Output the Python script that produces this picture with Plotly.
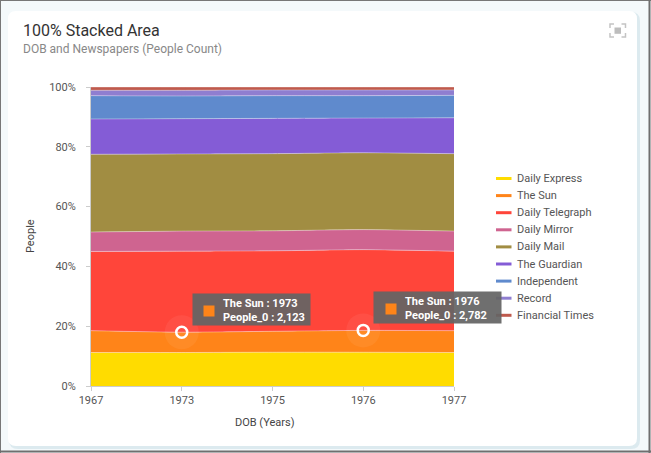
import plotly.graph_objects as go

# ---------------- data ----------------
years = ['1967', '1973', '1975', '1976', '1977']
daily_express = [3136, 3497, 3955, 4306, 3696]
the_sun = [2044, 2123, 2450, 2782, 2409]
daily_telegraph = [7420, 8461, 9415, 10290, 8778]
daily_mirror = [1820, 2092, 2345, 2553, 2211]
daily_mail = [7280, 8055, 9030, 9794, 8547]
the_guardian = [3304, 3684, 4130, 4421, 3960]
independent = [2184, 2373, 2660, 2858, 2475]
record = [504, 593, 665, 724, 594]
financial_times = [308, 343, 350, 381, 330]

series_names = ['Daily Express', 'The Sun', 'Daily Telegraph', 'Daily Mirror', 'Daily Mail',
                'The Guardian', 'Independent', 'Record', 'Financial Times']
series_values = [daily_express, the_sun, daily_telegraph, daily_mirror, daily_mail,
                 the_guardian, independent, record, financial_times]
colors = ['#FFDC00', '#FF8419', '#FF453A', '#CF6490', '#A18D42',
          '#845CD6', '#5F8ACD', '#8F7ED0', '#BF5A4D']

y_ticks = [0, 20, 40, 60, 80, 100]
y_tick_labels = ['0%', '20%', '40%', '60%', '80%', '100%']
tooltip_years = ['1973', '1976']

# ---------------- geometry helpers (pixels -> paper) ----------------
W, H = 651, 453
L, R, T, B = 91, 454, 87, 386


def px(x):
    return (x - L) / (R - L)


def py(y):
    return (B - y) / (B - T)


def rrect_path(x0, y0, x1, y1, r):
    pts = [
        ('M', x0 + r, y0), ('L', x1 - r, y0), ('Q', x1, y0, x1, y0 + r),
        ('L', x1, y1 - r), ('Q', x1, y1, x1 - r, y1), ('L', x0 + r, y1),
        ('Q', x0, y1, x0, y1 - r), ('L', x0, y0 + r), ('Q', x0, y0, x0 + r, y0)
    ]
    s = ''
    for p in pts:
        cmd = p[0]
        coords = p[1:]
        parts = []
        for i in range(0, len(coords), 2):
            parts.append(f'{px(coords[i]):.5f},{py(coords[i + 1]):.5f}')
        s += cmd + ' ' + ' '.join(parts) + ' '
    return s + 'Z'


FONT = 'Roboto'
fig = go.Figure()

# ---------------- stacked areas ----------------
for i, (name, vals, col) in enumerate(zip(series_names, series_values, colors)):
    fig.add_trace(go.Scatter(
        x=years, y=vals, name=name, stackgroup='one',
        groupnorm='percent' if i == 0 else None,
        mode='lines',
        line=dict(width=1, color='rgba(255,255,255,0.35)', shape='spline', smoothing=0.6),
        fillcolor=col, showlegend=False, hoverinfo='skip'))

# cumulative percentage at the top of "The Sun" layer
totals = [sum(v[j] for v in series_values) for j in range(len(years))]
tip_idx = [years.index(y) for y in tooltip_years]
tip_cum = [(daily_express[j] + the_sun[j]) / totals[j] * 100 for j in tip_idx]

fig.add_trace(go.Scatter(
    x=tooltip_years, y=tip_cum, mode='markers',
    marker=dict(size=34, color='rgba(255,255,255,0.06)', line=dict(width=0)),
    showlegend=False, hoverinfo='skip', cliponaxis=False))
fig.add_trace(go.Scatter(
    x=tooltip_years, y=tip_cum, mode='markers',
    marker=dict(size=11, color='rgba(0,0,0,0)', line=dict(color='white', width=2.5)),
    showlegend=False, hoverinfo='skip', cliponaxis=False))

shapes = []
annotations = []

# ---------------- background / card ----------------
shapes.append(dict(type='path', xref='paper', yref='paper', layer='below',
                   path=rrect_path(9, 12, 640, 449, 9),
                   fillcolor='rgba(200,222,230,0.55)', line=dict(width=0)))
shapes.append(dict(type='path', xref='paper', yref='paper', layer='below',
                   path=rrect_path(8, 11, 637, 446, 8),
                   fillcolor='white', line=dict(width=0)))
# outer frame
shapes.append(dict(type='line', xref='paper', yref='paper', x0=px(0.5), x1=px(0.5), y0=py(0), y1=py(453),
                   line=dict(color='#777777', width=1)))
shapes.append(dict(type='line', xref='paper', yref='paper', x0=px(0), x1=px(651), y0=py(0.5), y1=py(0.5),
                   line=dict(color='#777777', width=1)))
shapes.append(dict(type='line', xref='paper', yref='paper', x0=px(649.5), x1=px(649.5), y0=py(0), y1=py(453),
                   line=dict(color='#6f6f6f', width=2)))
shapes.append(dict(type='line', xref='paper', yref='paper', x0=px(0), x1=px(651), y0=py(451.5), y1=py(451.5),
                   line=dict(color='#6f6f6f', width=2)))

# expand icon (top right)
ic = '#c4c4c4'
for (ax_, ay_, dx, dy) in [(610, 24, 1, 1), (625.5, 24, -1, 1), (610, 37, 1, -1), (625.5, 37, -1, -1)]:
    shapes.append(dict(type='path', xref='paper', yref='paper',
                       path=f'M {px(ax_ + 4 * dx):.5f},{py(ay_):.5f} L {px(ax_):.5f},{py(ay_):.5f} L {px(ax_):.5f},{py(ay_ + 4 * dy):.5f}',
                       line=dict(color=ic, width=1.5)))
shapes.append(dict(type='rect', xref='paper', yref='paper',
                   x0=px(614.5), x1=px(621), y0=py(27.5), y1=py(33.8),
                   fillcolor='#bdbdbd', line=dict(width=0)))

# ---------------- titles ----------------
annotations.append(dict(xref='paper', yref='paper', x=px(21), y=py(31), xanchor='left', yanchor='middle',
                        text='100% Stacked Area', showarrow=False,
                        font=dict(family=FONT, size=16, color='#333333')))
annotations.append(dict(xref='paper', yref='paper', x=px(21), y=py(49.5), xanchor='left', yanchor='middle',
                        text='DOB and Newspapers (People Count)', showarrow=False,
                        font=dict(family=FONT, size=12, color='#888888')))
annotations.append(dict(xref='paper', yref='paper', x=px(265), y=py(422.5), xanchor='center', yanchor='middle',
                        text='DOB (Years)', showarrow=False,
                        font=dict(family=FONT, size=11, color='#444444')))
annotations.append(dict(xref='paper', yref='paper', x=px(30.5), y=py(236.5), xanchor='center', yanchor='middle',
                        text='People', showarrow=False, textangle=-90,
                        font=dict(family=FONT, size=11, color='#444444')))

# ---------------- manual legend ----------------
for i, (name, col) in enumerate(zip(series_names, colors)):
    yy = 178.5 + 17.1 * i
    shapes.append(dict(type='line', xref='paper', yref='paper',
                       x0=px(496), x1=px(511.5), y0=py(yy), y1=py(yy),
                       line=dict(color=col, width=3)))
    annotations.append(dict(xref='paper', yref='paper', x=px(515), y=py(yy), xanchor='left', yanchor='middle',
                            text=name, showarrow=False,
                            font=dict(family=FONT, size=11, color='#555555')))

# ---------------- tooltips (annotations anchored to the data points) ----------------
box_widths = [117, 127]
for k, j in enumerate(tip_idx):
    c = tip_cum[k]
    annotations.append(dict(xref='x', yref='y', x=j, y=c, xshift=10, yshift=6,
                            xanchor='left', yanchor='bottom', showarrow=False,
                            text=' ', width=box_widths[k], height=31, borderpad=0,
                            bgcolor='rgba(100,100,100,0.93)',
                            font=dict(family=FONT, size=8, color='white')))
    annotations.append(dict(xref='x', yref='y', x=j, y=c, xshift=21.5, yshift=15,
                            xanchor='left', yanchor='bottom', showarrow=False,
                            text=' ', width=10, height=10, borderpad=0,
                            bgcolor=colors[1],
                            font=dict(family=FONT, size=6, color='white')))
    annotations.append(dict(xref='x', yref='y', x=j, y=c, xshift=39.5, yshift=22,
                            xanchor='left', yanchor='middle', align='left', showarrow=False,
                            text=f'<b>{series_names[1]} : {years[j]}</b><br><b>People_0 : {the_sun[j]:,}</b>',
                            font=dict(family=FONT, size=11, color='white')))

fig.update_layout(
    width=W, height=H,
    margin=dict(l=L, r=W - R, t=T, b=H - B, pad=0),
    paper_bgcolor='#f4f9fb', plot_bgcolor='rgba(0,0,0,0)',
    showlegend=False,
    shapes=shapes, annotations=annotations,
    font=dict(family=FONT, size=11, color='#555555'),
    xaxis=dict(type='category', range=[0, len(years) - 1], showgrid=False, zeroline=False,
               showline=True, linecolor='#cccccc', linewidth=1,
               ticks='outside', ticklen=4, tickcolor='#cccccc',
               tickfont=dict(family=FONT, size=11, color='#555555')),
    yaxis=dict(range=[0, 100], tickvals=y_ticks, ticktext=y_tick_labels, showgrid=False, zeroline=False,
               showline=True, linecolor='#cccccc', linewidth=1,
               ticks='outside', ticklen=4, tickcolor='#cccccc', ticklabelstandoff=8,
               tickfont=dict(family=FONT, size=11, color='#555555')),
)

fig.write_html('out.html', config={'displayModeBar': False},
               post_script="document.body.style.margin='0';document.body.style.overflow='hidden';")
